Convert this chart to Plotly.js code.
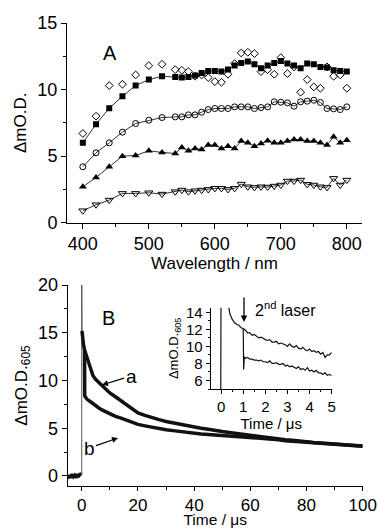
<!DOCTYPE html>
<html>
<head>
<meta charset="utf-8">
<script src="https://cdn.plot.ly/plotly-3.0.1.min.js"></script>
<style>html,body{margin:0;padding:0;background:#fff;}#chart{width:379px;height:528px;}</style>
</head>
<body>
<div id="chart"></div>
<script>
// ---------- Panel A: transient spectra ----------
const wlShort = [400, 420, 440, 460, 480, 500, 520, 540, 550, 560, 570, 580, 590, 600, 610, 620, 630, 640, 650, 660, 670, 680, 690, 700, 710, 720, 730, 740, 750, 760, 770, 780, 790, 800];
const diamondVals = [6.7, 8.0, 10.3, 10.4, 11.1, 11.8, 11.9, 11.5, 11.45, 11.35, 11.0, 11.1, 10.9, 10.6, 10.55, 11.15, 11.95, 12.75, 12.8, 12.7, 11.35, 11.5, 11.15, 12.4, 11.2, 11.7, 9.8, 10.75, 10.2, 10.1, 11.7, 11.0, 11.1, 10.1];
const squareVals  = [6.0, 7.4, 8.6, 9.5, 10.3, 10.75, 11.0, 10.95, 10.9, 10.95, 11.05, 11.25, 11.4, 11.4, 11.35, 11.5, 11.8, 12.0, 12.1, 11.9, 11.6, 11.8, 12.0, 12.15, 11.95, 11.8, 11.6, 11.95, 11.9, 11.7, 11.65, 11.45, 11.4, 11.35];
const circleVals  = [4.2, 5.25, 6.0, 6.8, 7.45, 7.7, 7.9, 7.95, 7.95, 8.1, 8.1, 8.3, 8.5, 8.58, 8.58, 8.58, 8.7, 8.7, 8.7, 8.58, 8.65, 8.7, 9.08, 9.05, 9.0, 8.75, 9.08, 9.13, 9.2, 9.03, 8.58, 8.55, 8.5, 8.7];
const triUpVals   = [2.7, 3.4, 4.2, 5.0, 5.05, 5.4, 5.28, 5.2, 5.65, 5.4, 5.58, 5.5, 5.83, 5.83, 5.58, 5.75, 5.58, 6.13, 6.0, 5.75, 5.95, 6.15, 6.0, 6.0, 6.13, 6.25, 6.25, 6.13, 6.13, 6.0, 5.83, 6.45, 6.0, 6.2];
const triDnVals   = [0.9, 1.35, 1.7, 2.2, 2.2, 2.25, 2.15, 2.33, 2.45, 2.33, 2.4, 2.45, 2.5, 2.58, 2.58, 2.5, 2.58, 2.9, 2.7, 2.65, 2.7, 2.68, 2.75, 2.83, 3.13, 3.13, 3.2, 2.88, 2.83, 2.7, 2.65, 3.33, 2.83, 3.2];
const xTicksA = [400, 500, 600, 700, 800];
const yTicksA = [0, 5, 10, 15];

// ---------- Panel B: kinetics at 605 nm ----------
const timePre = [-5, -4.5, -4, -3.5, -3, -2.5, -2, -1.5, -1, -0.5, 0];
const preVals = [-0.3, 0.1, -0.2, 0.2, -0.1, 0.1, -0.2, 0.2, 0.0, 0.2, 0.1];
const spikeT = [0.0, 0.0, 0.08];
const spikeVals = [0.1, 20, 15.2];
const timeA = [0.08, 0.3, 0.6, 1, 1.5, 2, 3, 4, 5, 6, 7, 8, 9, 10, 12, 14, 16, 18, 20, 22.5, 25, 27.5, 30, 32.5, 35, 37.5, 40, 42.5, 45, 47.5, 50, 52.5, 55, 57.5, 60, 62.5, 65, 67.5, 70, 72.5, 75, 77.5, 80, 82.5, 85, 87.5, 90, 92.5, 95, 97.5, 100];
const traceAVals = [15.2, 14.4, 13.8, 13.2, 12.7, 12.2, 11.2, 10.5, 10.1, 9.8, 9.5, 9.2, 8.95, 8.7, 8.3, 7.9, 7.5, 7.0, 6.6, 6.35, 6.1, 5.9, 5.7, 5.55, 5.4, 5.25, 5.15, 5.0, 4.9, 4.75, 4.65, 4.55, 4.45, 4.35, 4.25, 4.15, 4.05, 3.95, 3.9, 3.8, 3.75, 3.65, 3.6, 3.5, 3.45, 3.4, 3.35, 3.3, 3.25, 3.2, 3.15];
const timeB = [1, 1.05, 1.5, 2, 3, 4, 5, 6, 7, 8, 9, 10, 12, 14, 16, 18, 20, 22.5, 25, 27.5, 30, 32.5, 35, 37.5, 40, 42.5, 45, 47.5, 50, 52.5, 55, 57.5, 60, 62.5, 65, 67.5, 70, 72.5, 75, 77.5, 80, 82.5, 85, 87.5, 90, 92.5, 95, 97.5, 100];
const traceBVals = [13.2, 8.4, 8.2, 8.0, 7.8, 7.55, 7.35, 7.15, 6.95, 6.8, 6.65, 6.5, 6.25, 6.05, 5.85, 5.6, 5.4, 5.25, 5.1, 4.95, 4.85, 4.75, 4.65, 4.55, 4.5, 4.4, 4.35, 4.3, 4.2, 4.15, 4.1, 4.05, 4.0, 3.95, 3.9, 3.85, 3.8, 3.7, 3.65, 3.6, 3.5, 3.45, 3.4, 3.35, 3.3, 3.25, 3.2, 3.15, 3.1];
const xTicksB = [0, 20, 40, 60, 80, 100];
const yTicksB = [0, 5, 10, 15, 20];

// ---------- Inset: 2nd laser ----------
const insetT = [-0.5, -0.02, 0.0, 0.3, 0.4, 0.5, 0.6, 0.7, 0.8, 0.9, 1.0, 1.1, 1.2, 1.3, 1.4, 1.5, 1.6, 1.7, 1.8, 1.9, 2.0, 2.1, 2.2, 2.3, 2.4, 2.5, 2.6, 2.7, 2.8, 2.9, 3.0, 3.1, 3.2, 3.3, 3.4, 3.5, 3.6, 3.7, 3.8, 3.9, 4.0, 4.1, 4.2, 4.3, 4.4, 4.5, 4.6, 4.7, 4.8, 4.9, 5.0];
const insetAVals = [0, 0, 20, 15.5, 13.8, 13.2, 12.8, 12.6, 12.5, 12.2, 12.1, 11.9, 11.6, 11.6, 11.3, 11.4, 11.2, 11.0, 11.1, 10.9, 10.8, 10.7, 10.8, 10.5, 10.5, 10.6, 10.3, 10.4, 10.3, 10.2, 10.0, 10.3, 10.0, 9.9, 10.1, 9.8, 9.7, 9.9, 9.6, 9.5, 9.7, 9.4, 9.5, 9.3, 9.4, 9.1, 9.3, 8.7, 9.0, 9.0, 9.3];
const insetBT = [1.0, 1.02, 1.05, 1.1, 1.2, 1.3, 1.4, 1.5, 1.6, 1.7, 1.8, 1.9, 2.0, 2.1, 2.2, 2.3, 2.4, 2.5, 2.6, 2.7, 2.8, 2.9, 3.0, 3.1, 3.2, 3.3, 3.4, 3.5, 3.6, 3.7, 3.8, 3.9, 4.0, 4.1, 4.2, 4.3, 4.4, 4.5, 4.6, 4.7, 4.8, 4.9, 5.0];
const insetBVals = [12.1, 7.3, 8.8, 8.6, 8.7, 8.5, 8.5, 8.4, 8.4, 8.3, 8.4, 8.2, 8.2, 8.1, 8.3, 8.0, 8.0, 8.1, 7.9, 7.9, 8.0, 7.7, 7.8, 7.6, 7.7, 7.5, 7.4, 7.6, 7.3, 7.4, 7.2, 7.5, 7.1, 7.2, 7.0, 7.2, 6.9, 6.9, 6.7, 6.9, 6.6, 6.7, 6.6];
const xTicksIn = [0, 1, 2, 3, 4, 5];
const yTicksIn = [6, 8, 10, 12, 14];

const FONT = 'Arial, Liberation Sans, sans-serif';
const lineCol = '#333';

const traces = [
  {x: wlShort, y: diamondVals, type: 'scatter', mode: 'markers', xaxis: 'x', yaxis: 'y',
   marker: {symbol: 'diamond-open', size: 6, color: '#000', line: {width: 1, color: '#000'}}},
  {x: wlShort, y: squareVals, type: 'scatter', mode: 'lines+markers', xaxis: 'x', yaxis: 'y',
   line: {color: lineCol, width: 1}, marker: {symbol: 'square', size: 6, color: '#000'}},
  {x: wlShort, y: circleVals, type: 'scatter', mode: 'lines+markers', xaxis: 'x', yaxis: 'y',
   line: {color: lineCol, width: 1}, marker: {symbol: 'circle-open', size: 6, color: '#000', line: {width: 1}}},
  {x: wlShort, y: triUpVals, type: 'scatter', mode: 'lines+markers', xaxis: 'x', yaxis: 'y',
   line: {color: lineCol, width: 1}, marker: {symbol: 'triangle-up', size: 7, color: '#000'}},
  {x: wlShort, y: triDnVals, type: 'scatter', mode: 'lines+markers', xaxis: 'x', yaxis: 'y',
   line: {color: lineCol, width: 1}, marker: {symbol: 'triangle-down-open', size: 7, color: '#000', line: {width: 1}}},

  {x: timePre, y: preVals, type: 'scatter', mode: 'lines', xaxis: 'x2', yaxis: 'y2',
   line: {color: '#111', width: 3}},
  {x: spikeT, y: spikeVals, type: 'scatter', mode: 'lines', xaxis: 'x2', yaxis: 'y2',
   line: {color: '#555', width: 1}},
  {x: timeA, y: traceAVals, type: 'scatter', mode: 'lines', xaxis: 'x2', yaxis: 'y2',
   line: {color: '#111', width: 3.5}},
  {x: timeB, y: traceBVals, type: 'scatter', mode: 'lines', xaxis: 'x2', yaxis: 'y2',
   line: {color: '#111', width: 3.5}},

  {x: insetT, y: insetAVals, type: 'scatter', mode: 'lines', xaxis: 'x3', yaxis: 'y3',
   line: {color: '#111', width: 1.2}},
  {x: insetBT, y: insetBVals, type: 'scatter', mode: 'lines', xaxis: 'x3', yaxis: 'y3',
   line: {color: '#111', width: 1.2}}
];

function ax(extra) {
  return Object.assign({
    showline: true, linecolor: '#000', linewidth: 1, mirror: false,
    showgrid: false, zeroline: false, ticks: 'outside', ticklen: 5, tickwidth: 1, tickcolor: '#000',
    tickfont: {family: FONT, size: 18, color: '#000'}, fixedrange: true
  }, extra);
}

const px = (x) => x / 379;
const py = (y) => 1 - y / 528;

const layout = {
  width: 379, height: 528,
  margin: {l: 0, r: 0, t: 0, b: 0},
  paper_bgcolor: '#fff', plot_bgcolor: 'rgba(0,0,0,0)',
  showlegend: false,
  font: {family: FONT, color: '#000'},
  xaxis: ax({domain: [px(67), px(362)], anchor: 'y', range: [376, 823], tickvals: xTicksA,
    minor: {ticks: 'outside', ticklen: 3, dtick: 50, tick0: 0, tickcolor: '#000'},
    title: {text: 'Wavelength / nm', font: {family: FONT, size: 17}, standoff: 0}}),
  yaxis: ax({domain: [py(222.7), py(23)], anchor: 'x', range: [0, 15], tickvals: yTicksA,
    minor: {ticks: 'outside', ticklen: 3, dtick: 2.5, tick0: 0, tickcolor: '#000'},
    title: {text: 'ΔmO.D.', font: {family: FONT, size: 17}, standoff: 6}}),
  xaxis2: ax({domain: [px(67.7), px(362.7)], anchor: 'y2', range: [-5, 100], tickvals: xTicksB,
    ticklen: 4, tickfont: {family: FONT, size: 17, color: '#000'},
    minor: {ticks: 'outside', ticklen: 3, dtick: 10, tick0: 0, tickcolor: '#000'},
    title: {text: 'Time / μs', font: {family: FONT, size: 15.5}, standoff: 4}}),
  yaxis2: ax({domain: [py(486), py(285)], anchor: 'x2', range: [-1.05, 20], tickvals: yTicksB,
    minor: {ticks: 'outside', ticklen: 3, dtick: 2.5, tick0: 0, tickcolor: '#000'},
    title: {text: 'ΔmO.D.<sub>605</sub>', font: {family: FONT, size: 17}, standoff: 6}}),
  xaxis3: ax({domain: [px(210.7), px(331.7)], anchor: 'y3', range: [-0.47, 5], tickvals: xTicksIn,
    ticklen: 4, tickfont: {family: FONT, size: 15, color: '#000'},
    minor: {ticks: 'outside', ticklen: 2, dtick: 0.5, tick0: 0, tickcolor: '#000'},
    title: {text: 'Time / μs', font: {family: FONT, size: 15}, standoff: 0}}),
  yaxis3: ax({domain: [py(389), py(307.7)], anchor: 'x3', range: [5, 14.55], tickvals: yTicksIn,
    ticklen: 4, tickfont: {family: FONT, size: 15, color: '#000'},
    minor: {ticks: 'outside', ticklen: 2, dtick: 1, tick0: 0, tickcolor: '#000'},
    title: {text: 'ΔmO.D.<sub>605</sub>', font: {family: FONT, size: 13}, standoff: 4}}),
  annotations: [
    {text: 'A', xref: 'paper', yref: 'paper', x: px(110), y: py(53), showarrow: false,
     font: {family: FONT, size: 20}, xanchor: 'center', yanchor: 'middle'},
    {text: 'B', xref: 'paper', yref: 'paper', x: px(108), y: py(318), showarrow: false,
     font: {family: FONT, size: 20}, xanchor: 'center', yanchor: 'middle'},
    {text: 'a', xref: 'paper', yref: 'paper', x: px(102), y: py(385), showarrow: true,
     ax: 29, ay: -9, standoff: 0, arrowhead: 2, arrowsize: 1, arrowwidth: 1.2, arrowcolor: '#000',
     font: {family: FONT, size: 19}},
    {text: 'b', xref: 'paper', yref: 'paper', x: px(118), y: py(438), showarrow: true,
     ax: -29, ay: 10, standoff: 0, arrowhead: 2, arrowsize: 1, arrowwidth: 1.2, arrowcolor: '#000',
     font: {family: FONT, size: 19}},
    {text: '2<sup>nd</sup> laser', xref: 'paper', yref: 'paper', x: px(253), y: py(309), showarrow: false,
     font: {family: FONT, size: 16}, xanchor: 'left', yanchor: 'middle'},
    {text: '', xref: 'paper', yref: 'paper', x: px(244), y: py(322), showarrow: true,
     ax: 0, ay: -26, arrowhead: 2, arrowsize: 1, arrowwidth: 1.3, arrowcolor: '#000'}
  ]
};

Plotly.newPlot('chart', traces, layout, {staticPlot: true, displayModeBar: false});
</script>
</body>
</html>
